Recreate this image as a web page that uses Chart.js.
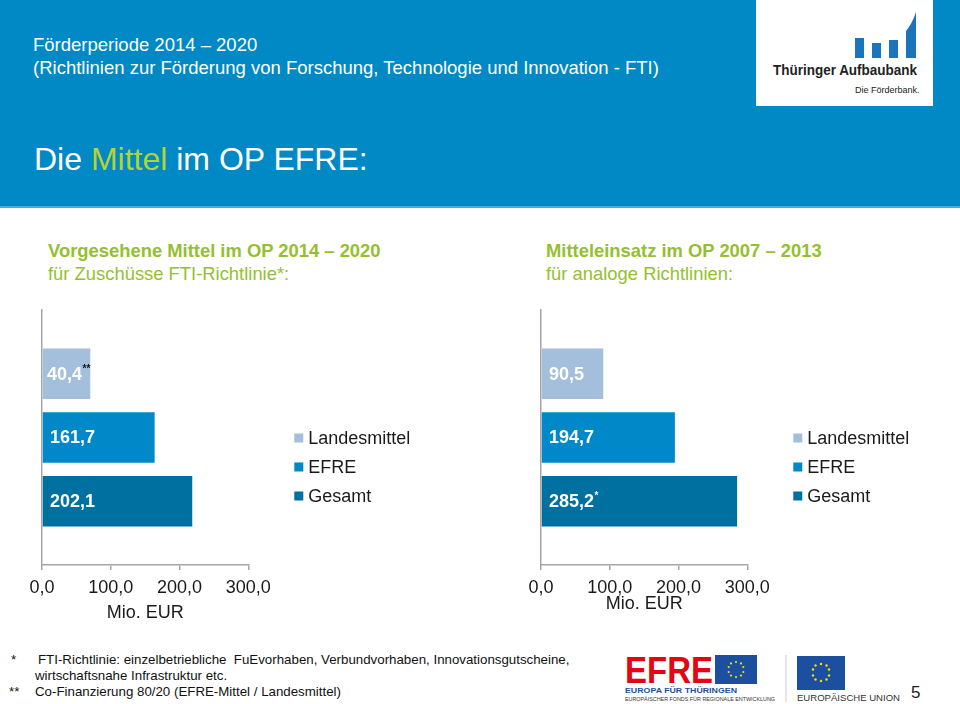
<!DOCTYPE html>
<html><head><meta charset="utf-8">
<script src="https://cdn.jsdelivr.net/npm/chart.js@4.4.1/dist/chart.umd.min.js"></script>
<style>
body{margin:0;width:960px;height:704px;position:relative;overflow:hidden;background:#fff;font-family:"Liberation Sans",Arial,sans-serif;}
.abs{position:absolute;white-space:nowrap;}
#hdr{left:0;top:0;width:960px;height:206px;background:#0089c4;border-bottom:2px solid #4fa9d6;}
.hd{color:#fff;font-size:18.5px;left:33px;}
#title{left:34px;top:141px;font-size:32px;color:#fff;}
#title span{color:#b3d335;}
#logo{left:756px;top:0;width:177px;height:106px;background:#fff;}
.sub{color:#94bf30;font-size:18.4px;}
.subb{font-weight:bold;}
.fn{font-size:13.3px;color:#111;}
canvas{position:absolute;}
</style></head>
<body>
<div id="hdr" class="abs"></div>
<div class="abs hd" style="top:34px;">Förderperiode 2014 – 2020</div>
<div class="abs hd" style="top:57px;">(Richtlinien zur Förderung von Forschung, Technologie und Innovation - FTI)</div>
<div id="title" class="abs">Die <span>Mittel</span> im OP EFRE:</div>
<div id="logo" class="abs">
  <svg width="177" height="106" viewBox="0 0 177 106">
    <rect x="99" y="38" width="9" height="20" fill="#1b75bb"/>
    <rect x="116" y="43" width="9" height="15" fill="#1b75bb"/>
    <rect x="133" y="40" width="9" height="18" fill="#1b75bb"/>
    <path d="M150 58 L150 31 Q156 24 160 12 L160 58 Z" fill="#1b75bb"/>
    <text x="17" y="75" font-family="Liberation Sans, Arial" font-weight="bold" font-size="14.5" fill="#222" textLength="144" lengthAdjust="spacingAndGlyphs">Thüringer Aufbaubank</text>
    <text x="99" y="93" font-family="Liberation Sans, Arial" font-size="9" fill="#222">Die Förderbank.</text>
  </svg>
</div>

<div class="abs sub subb" style="left:48px;top:240px;">Vorgesehene Mittel im OP 2014 – 2020</div>
<div class="abs sub" style="left:48px;top:263px;">für Zuschüsse FTI-Richtlinie*:</div>
<div class="abs sub subb" style="left:546px;top:240px;">Mitteleinsatz im OP 2007 – 2013</div>
<div class="abs sub" style="left:546px;top:263px;">für analoge Richtlinien:</div>

<canvas id="c1" width="510" height="330" style="left:0;top:300px;width:510px;height:330px"></canvas>
<canvas id="c2" width="460" height="330" style="left:500px;top:300px;width:460px;height:330px"></canvas>

<div class="abs fn" style="left:11px;top:652px;">*</div>
<div class="abs fn" style="left:38px;top:652px;">FTI-Richtlinie: einzelbetriebliche&nbsp; FuEvorhaben, Verbundvorhaben, Innovationsgutscheine,</div>
<div class="abs fn" style="left:35px;top:668px;">wirtschaftsnahe Infrastruktur etc.</div>
<div class="abs fn" style="left:9px;top:684px;">**</div>
<div class="abs fn" style="left:35px;top:684px;">Co-Finanzierung 80/20 (EFRE-Mittel / Landesmittel)</div>

<svg class="abs" style="left:620px;top:650px;" width="340" height="54" viewBox="0 0 340 54">
  <text x="5" y="33" font-family="Liberation Sans, Arial" font-weight="bold" font-size="37" fill="#e30613" textLength="88" lengthAdjust="spacingAndGlyphs">EFRE</text>
  <rect x="95" y="5" width="42" height="29" fill="#1c4fa0"/>
  <g fill="#ffdd00">
    <circle cx="116" cy="12" r="1.1"/><circle cx="121" cy="13.4" r="1.1"/><circle cx="123.3" cy="17" r="1.1"/><circle cx="123.3" cy="22" r="1.1"/><circle cx="121" cy="25.6" r="1.1"/><circle cx="116" cy="27" r="1.1"/><circle cx="111" cy="25.6" r="1.1"/><circle cx="108.7" cy="22" r="1.1"/><circle cx="108.7" cy="17" r="1.1"/><circle cx="111" cy="13.4" r="1.1"/>
  </g>
  <text x="5" y="43" font-family="Liberation Sans, Arial" font-weight="bold" font-size="7.5" fill="#1c4fa0" textLength="112" lengthAdjust="spacingAndGlyphs">EUROPA FÜR THÜRINGEN</text>
  <text x="5" y="51" font-family="Liberation Sans, Arial" font-size="5.5" fill="#333" textLength="150" lengthAdjust="spacingAndGlyphs">EUROPÄISCHER FONDS FÜR REGIONALE ENTWICKLUNG</text>
  <line x1="166" y1="5" x2="166" y2="52" stroke="#ccc" stroke-width="1"/>
  <rect x="177" y="6" width="48" height="34" fill="#1c4fa0"/>
  <g fill="#ffdd00">
    <circle cx="201" cy="14" r="1.2"/><circle cx="206.5" cy="15.5" r="1.2"/><circle cx="209" cy="19.5" r="1.2"/><circle cx="209" cy="25.5" r="1.2"/><circle cx="206.5" cy="29.5" r="1.2"/><circle cx="201" cy="31" r="1.2"/><circle cx="195.5" cy="29.5" r="1.2"/><circle cx="193" cy="25.5" r="1.2"/><circle cx="193" cy="19.5" r="1.2"/><circle cx="195.5" cy="15.5" r="1.2"/>
  </g>
  <text x="177" y="51" font-family="Liberation Sans, Arial" font-size="9" fill="#333" textLength="103" lengthAdjust="spacingAndGlyphs">EUROPÄISCHE UNION</text>
  <text x="291" y="48" font-family="Liberation Sans, Arial" font-size="17" fill="#222">5</text>
</svg>

<script>
// ---- data ----
const seriesNames = ['Landesmittel', 'EFRE', 'Gesamt'];
const seriesColors = ['#a4bfdc', '#0088c8', '#0070a1'];
const leftBarValues = [70.2, 163.8, 218.5];
const leftLabels = ['40,4', '161,7', '202,1'];
const leftMarks = ['**', '', ''];
const rightBarValues = [90.5, 194.7, 285.2];
const rightLabels = ['90,5', '194,7', '285,2'];
const rightMarks = ['', '', '*'];
const axisTitle = 'Mio. EUR';
const axisMin = 0, axisMax = 300, axisStep = 100;

const FONT = '"Liberation Sans", Arial, sans-serif';

const overlay = {
  id: 'overlay',
  afterDatasetsDraw(chart, args, o) {
    const ctx = chart.ctx, a = chart.chartArea;
    chart.data.datasets.forEach((ds, i) => {
      const bar = chart.getDatasetMeta(i).data[0];
      ctx.save();
      ctx.font = 'bold 18px ' + FONT;
      ctx.fillStyle = '#fff';
      ctx.textBaseline = 'middle';
      ctx.textAlign = 'left';
      const x = a.left + (o.marks[i] === '**' ? 5 : 8);
      ctx.fillText(o.labels[i], x, bar.y + 1);
      if (o.marks[i]) {
        const w = ctx.measureText(o.labels[i]).width;
        ctx.font = 'bold 10px ' + FONT;
        ctx.fillStyle = o.marks[i] === '**' ? '#111' : '#fff';
        ctx.fillText(o.marks[i], x + w + 0.5, bar.y - 5);
      }
      ctx.restore();
    });
    // legend
    ctx.save();
    ctx.font = '18px ' + FONT;
    ctx.textBaseline = 'middle';
    chart.data.datasets.forEach((ds, i) => {
      const y = a.top + 128 + i * 29;
      ctx.fillStyle = ds.backgroundColor;
      ctx.fillRect(a.right + 46, y - 4.5, 9, 9);
      ctx.fillStyle = '#1a1a1a';
      ctx.fillText(ds.label, a.right + 60, y + 1);
    });
    ctx.restore();
  }
};

function makeChart(id, values, labels, marks, padRight, titlePadBottom, yWidth) {
  return new Chart(document.getElementById(id), {
    type: 'bar',
    data: {
      labels: [''],
      datasets: seriesNames.map((n, i) => ({
        label: n,
        data: [values[i]],
        backgroundColor: seriesColors[i],
        categoryPercentage: 0.75,
        barPercentage: 0.79
      }))
    },
    options: {
      indexAxis: 'y',
      responsive: false,
      animation: false,
      events: [],
      layout: { padding: { top: 10, right: padRight, bottom: 5, left: 0 } },
      plugins: {
        legend: { display: false },
        tooltip: { enabled: false },
        overlay: { labels, marks }
      },
      scales: {
        y: {
          ticks: { display: false },
          grid: { display: false },
          border: { display: true, color: '#a6a6a6', width: 1.5 },
          afterFit: s => { s.width = yWidth; }
        },
        x: {
          min: axisMin, max: axisMax,
          ticks: {
            stepSize: axisStep,
            color: '#1a1a1a',
            font: { family: FONT, size: 18 },
            padding: 7,
            maxRotation: 0,
            callback: v => v.toFixed(1).replace('.', ',')
          },
          grid: { drawOnChartArea: false, drawTicks: true, tickLength: 5, color: '#a6a6a6', lineWidth: 1.5 },
          border: { display: true, color: '#a6a6a6', width: 1.5 },
          title: {
            display: true, text: axisTitle, color: '#1a1a1a',
            font: { family: FONT, size: 18 },
            padding: { top: 0, bottom: titlePadBottom }
          },
          afterFit: s => { s.height = 60; }
        }
      }
    },
    plugins: [overlay]
  });
}

makeChart('c1', leftBarValues, leftLabels, leftMarks, 261.7, 1.5, 42);
makeChart('c2', rightBarValues, rightLabels, rightMarks, 212.7, 10, 41);
</script>
</body></html>
